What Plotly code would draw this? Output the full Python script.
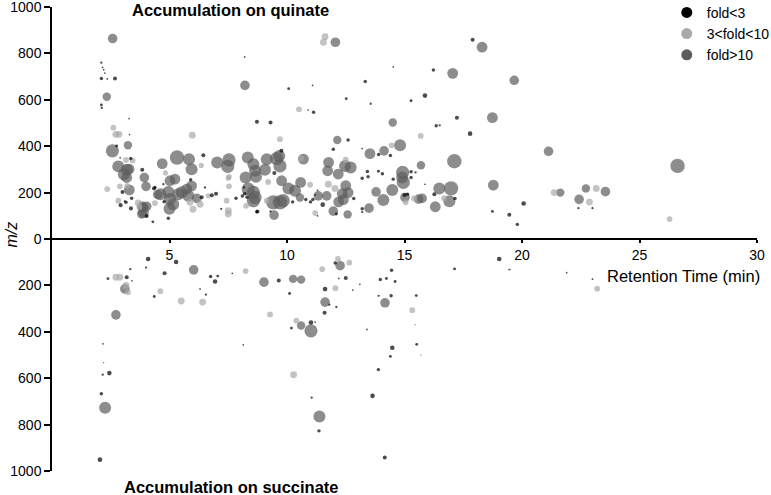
import plotly.graph_objects as go

# ---------------- data (retention time [min], m/z, relative peak intensity) ----------------
# Accumulation on quinate (plotted upward)
q_low_rt = [2.1, 2.15, 2.2, 2.25, 2.1, 2.35, 2.68, 2.1, 2.12, 3.28, 3.3, 2.75, 3.35, 3.0, 3.1, 2.92, 3.36, 3.15, 3.39,
            3.84, 4.03, 4.29, 4.34, 4.74, 4.77, 4.95, 5.9, 6.37, 6.44, 6.51, 6.8, 6.98, 7.2, 7.83, 8.1, 8.2, 8.3, 8.17,
            8.72, 8.2, 8.72, 9.3, 10.07, 11.09, 12.52, 13.33, 14.52, 16.23, 17.9, 15.87, 15.28, 13.56, 11.13, 10.9,
            16.35, 16.5, 17.23, 17.79, 12.6, 9.76, 11.97, 13.2, 13.9, 14.4, 9.46, 8.74, 9.3, 10.24, 10.8, 11.0, 11.1,
            11.52, 11.2, 11.3, 11.3, 12.1, 12.84, 13.2, 13.2, 13.2, 13.42, 13.45, 13.89, 14.06, 14.52, 15.0, 15.13,
            15.28, 15.28, 15.47, 15.87, 16.27, 17.15, 18.74, 19.46, 20.07, 19.8, 22.4, 23.0, 2.9, 4.38]
q_low_mz = [760, 740, 730, 715, 692, 690, 692, 578, 565, 519, 450, 401, 347, 203, 162, 146, 132, 158, 176,
            298, 99, 74, 218, 236, 161, 89, 255, 180, 361, 222, 189, 195, 130, 176, 185, 195, 180, 222,
            117, 785, 505, 502, 648, 662, 605, 679, 742, 728, 859, 618, 596, 583, 546, 556,
            488, 490, 523, 454, 427, 380, 387, 390, 364, 360, 284, 119, 119, 160, 170, 160, 170,
            148, 190, 210, 100, 108, 175, 130, 116, 262, 291, 268, 292, 281, 258, 190, 193,
            290, 265, 287, 236, 193, 175, 119, 105, 153, 63, 133, 133, 350, 222]
q_low_int = [2, 1.5, 1.5, 1.5, 3, 1.5, 3.5, 2.5, 2, 1.5, 1.5, 2.5, 3, 3.5, 2, 3.5, 3.5, 3, 3,
             3.5, 3.5, 2.5, 3.5, 2, 3, 3, 3, 3.5, 3.5, 2, 3.5, 3.5, 2, 3, 3, 3, 3, 2,
             3, 1.5, 3.5, 3.5, 2.5, 1.5, 2.5, 3, 1.5, 3, 3.5, 4, 2.5, 2, 3, 1.5,
             3, 2, 3.5, 4, 3, 3.5, 3, 1.5, 3, 3, 3.5, 3.5, 2, 3, 3, 3, 3,
             4, 1.5, 1.5, 1.5, 2.5, 3, 3, 2, 3, 3, 3, 2.5, 3, 3, 3.5, 3,
             3, 3, 2, 1.5, 3.5, 3, 2.5, 3.5, 4, 3, 2, 2, 1.5, 3]

q_mid_rt = [2.61, 2.72, 2.85, 3.15, 3.43, 2.35, 2.89, 3.2, 2.82, 3.67, 3.72, 4.38, 4.83, 5.97, 5.87, 6.0, 6.3,
            6.35, 6.65, 7.5, 7.43, 7.53, 7.5, 7.5, 8.26, 9.2, 9.14, 9.7, 10.51, 10.6, 10.98, 11.2, 11.62, 11.55,
            11.76, 12.04, 12.5, 14.45, 15.05, 15.4, 15.69, 16.68, 21.37, 23.16, 22.87, 26.28, 7.53]
q_mid_mz = [480, 451, 451, 341, 338, 215, 227, 229, 165, 155, 136, 155, 285, 447, 158, 128, 150,
            317, 186, 262, 165, 227, 122, 108, 143, 246, 165, 430, 559, 348, 234, 112, 872, 848,
            236, 218, 342, 404, 158, 175, 444, 176, 200, 218, 159, 86, 268]
q_mid_int = [5, 6, 6, 5, 5, 5, 5, 5, 5, 6, 5, 5, 4.5, 6, 6, 6, 6,
             4.5, 4.5, 4.5, 5, 5, 6, 6, 5, 5, 5, 5, 5, 5, 5, 5, 6, 6,
             6, 6, 5, 5, 5, 5, 5, 5, 6, 6, 6, 5, 5]

q_high_rt = [2.58, 2.33, 3.23, 2.57, 2.82, 3.18, 3.06, 3.28, 3.18, 3.29, 3.89, 3.82, 4.03, 3.89, 3.82, 3.93, 4.0,
             4.5, 4.62, 4.69, 5.02, 5.23, 4.95, 5.02, 5.16, 5.0, 5.37, 5.52, 5.8, 5.94, 5.73, 5.32, 5.83, 5.94,
             6.16, 7.03, 7.53, 7.48, 8.21, 8.33, 8.57, 8.64, 8.24, 8.68, 8.35, 8.57, 8.64, 8.57, 9.14, 9.56,
             9.67, 9.7, 9.06, 9.77, 10.06, 10.34, 10.58, 9.42, 9.7, 9.84, 9.45, 10.55, 10.7, 11.33, 11.69, 11.97,
             12.06, 12.14, 11.77, 11.73, 12.18, 12.47, 12.71, 12.2, 12.35, 12.5, 12.4, 12.6, 12.58, 13.49, 13.53,
             14.13, 14.5, 13.79, 14.1, 14.48, 14.92, 14.95, 14.9, 15.02, 15.6, 15.75, 15.7, 14.81, 16.48, 16.31,
             16.98, 16.91, 17.05, 17.12, 18.3, 18.74, 18.78, 19.67, 21.13, 21.63, 22.72, 23.55, 22.43, 26.62]
q_high_mz = [864, 613, 404, 380, 313, 298, 278, 301, 265, 212, 136, 141, 141, 115, 108, 265, 227,
             191, 193, 325, 251, 258, 203, 172, 150, 130, 193, 201, 186, 229, 215, 351, 344, 301,
             175, 330, 341, 313, 662, 351, 322, 294, 265, 268, 215, 201, 179, 165, 344, 347,
             358, 315, 298, 251, 218, 208, 244, 158, 158, 165, 103, 179, 344, 186, 186, 120,
             848, 427, 330, 294, 280, 315, 308, 160, 195, 230, 170, 200, 106, 133, 368,
             380, 502, 203, 168, 211, 287, 244, 265, 179, 172, 175, 318, 404, 218, 139,
             218, 163, 714, 335, 827, 523, 232, 684, 378, 200, 218, 204, 171, 315]
q_high_int = [8, 7, 7, 11, 10, 10, 10, 9, 9, 9, 9, 8, 8, 9, 8, 8, 8,
              8, 10, 9, 9, 9, 10, 10, 10, 10, 10, 10, 10, 9, 9, 12, 10, 10,
              8, 10, 11, 11, 8, 10, 10, 10, 10, 10, 11, 11, 11, 11, 10, 11,
              10, 11, 10, 9, 10, 10, 9, 12, 12, 11, 8, 7, 9, 8, 8, 8,
              8, 7, 9, 9, 9, 10, 10, 9, 9, 9, 9, 9, 7, 8, 9,
              8, 7, 8, 10, 10, 11, 11, 10, 8, 8, 8, 7, 10, 10, 9,
              12, 10, 9, 12, 9, 9, 9, 8, 8, 7, 7, 8, 8, 12]

# Accumulation on succinate (plotted downward)
s_low_rt = [4.09, 4.0, 5.28, 4.79, 3.33, 2.38, 3.18, 3.4, 4.35, 6.3, 6.55, 6.75, 6.94, 7.05, 7.67, 2.17, 2.2,
            2.16, 2.44, 2.1, 2.04, 8.14, 9.65, 10.11, 10.19, 11.02, 11.2, 11.05, 11.36, 11.62, 11.8, 11.6, 12.1,
            12.05, 12.2, 12.5, 12.8, 13.1, 13.4, 13.97, 14.23, 14.45, 14.6, 13.9, 14.43, 15.5, 15.45, 14.48,
            14.4, 15.52, 15.7, 13.89, 13.64, 14.16, 17.13, 19.03, 19.45, 21.9, 23.0]
s_low_mz = [86, 123, 99, 148, 130, 171, 165, 180, 248, 215, 240, 162, 183, 160, 148, 452, 533,
            585, 578, 667, 951, 456, 179, 235, 384, 360, 358, 684, 827, 216, 283, 318, 293,
            103, 170, 168, 220, 195, 390, 175, 170, 135, 183, 245, 245, 244, 370, 469,
            506, 454, 500, 563, 676, 942, 129, 86, 132, 145, 173]
s_low_int = [4, 2, 4, 3.5, 2, 2.5, 3.5, 1.5, 2.5, 1.5, 2, 3, 4, 2.5, 1.5, 1.5, 1,
             2, 4, 3, 4, 1.5, 3.5, 2.5, 2.5, 4, 1.5, 2, 3, 4, 2, 3.5, 2,
             3, 1.5, 3.5, 1.5, 1.5, 1.5, 3, 2.5, 3, 2.5, 2, 3, 2.5, 1, 4,
             2.5, 2.5, 1, 3, 4, 3.5, 2.5, 4, 1.5, 1.5, 1.5]

s_mid_rt = [2.72, 2.89, 3.15, 3.23, 4.61, 5.5, 6.41, 8.24, 9.28, 10.4, 10.28, 11.5, 12.06, 12.17, 12.65,
            15.33, 19.5, 23.2]
s_mid_mz = [165, 165, 200, 229, 225, 267, 272, 138, 325, 352, 585, 130, 212, 86, 102, 307, 132, 214]
s_mid_int = [6, 6, 6, 5, 5, 6, 6, 5, 5, 5, 6, 5, 5, 5, 5, 5, 2, 5]

s_high_rt = [6.03, 3.1, 2.72, 2.26, 9.02, 10.26, 10.6, 10.6, 11.02, 11.38, 11.62, 12.26, 14.17]
s_high_mz = [133, 215, 327, 727, 186, 172, 175, 373, 396, 765, 272, 115, 275]
s_high_int = [8, 8, 8, 10, 8, 7, 7, 7, 11, 10, 8, 8, 8]

categories = ["fold<3", "3<fold<10", "fold>10"]
colors = {"fold<3": "#000000", "3<fold<10": "#aaaaaa", "fold>10": "#5c5c5c"}

y_tick_vals = [-1000, -800, -600, -400, -200, 0, 200, 400, 600, 800, 1000]
y_tick_text = [str(abs(v)) for v in y_tick_vals]
x_tick_vals = [5, 10, 15, 20, 25, 30]

series = {
    "fold<3": (q_low_rt, q_low_mz, q_low_int, s_low_rt, s_low_mz, s_low_int),
    "3<fold<10": (q_mid_rt, q_mid_mz, q_mid_int, s_mid_rt, s_mid_mz, s_mid_int),
    "fold>10": (q_high_rt, q_high_mz, q_high_int, s_high_rt, s_high_mz, s_high_int),
}
size_scale = {"fold<3": 1.15, "3<fold<10": 1.15, "fold>10": 1.2}

FONT = "Liberation Sans, Arial, Helvetica, sans-serif"
fig = go.Figure()

for cat in ["fold>10", "3<fold<10", "fold<3"]:
    qrt, qmz, qint, srt, smz, sint = series[cat]
    fig.add_trace(go.Scatter(
        x=list(qrt) + list(srt),
        y=list(qmz) + [-v for v in smz],
        mode="markers",
        marker=dict(color=colors[cat], size=[v * size_scale[cat] for v in list(qint) + list(sint)],
                    line=dict(width=0)),
        showlegend=False, hoverinfo="x+y",
    ))

for cat in categories:
    fig.add_trace(go.Scatter(x=[None], y=[None], mode="markers", name=cat,
                             marker=dict(color=colors[cat], size=11)))

fig.update_layout(
    width=771, height=495,
    margin=dict(l=52, r=14, t=7, b=24, autoexpand=False),
    paper_bgcolor="white", plot_bgcolor="white",
    font=dict(family=FONT, size=14, color="black"),
    showlegend=True,
    legend=dict(x=0.872, y=1.022, xanchor="left", yanchor="top",
                font=dict(size=14, family=FONT), bgcolor="rgba(0,0,0,0)",
                itemwidth=30),
    xaxis=dict(range=[0, 30], anchor="free", position=0.5, showline=True, linecolor="black",
               linewidth=1.5, ticks="outside", ticklen=3, tickwidth=1.5, tickcolor="black",
               tickvals=x_tick_vals, showgrid=False, zeroline=False,
               tickfont=dict(size=14), ticklabeloverflow="allow"),
    yaxis=dict(range=[-1000, 1000], showline=True, linecolor="black", linewidth=1.5,
               ticks="outside", ticklen=6, tickwidth=1.5, tickcolor="black",
               tickvals=y_tick_vals, ticktext=y_tick_text, showgrid=False, zeroline=False,
               tickfont=dict(size=14), ticklabeloverflow="allow"),
    annotations=[
        dict(text="<b>Accumulation on quinate</b>", xref="paper", yref="paper", x=0.2525, y=0.9935,
             showarrow=False, font=dict(size=16.5), xanchor="center", yanchor="middle"),
        dict(text="<b>Accumulation on succinate</b>", xref="paper", yref="paper", x=0.255, y=-0.0345,
             showarrow=False, font=dict(size=16.5), xanchor="center", yanchor="middle"),
        dict(text="Retention Time (min)", xref="paper", yref="paper", x=1, y=0.42, xshift=5,
             showarrow=False, font=dict(size=16.5), xanchor="right", yanchor="middle"),
        dict(text="<i>m/z</i>", xref="paper", yref="paper", x=-0.058, y=0.51, textangle=-90,
             showarrow=False, font=dict(size=16), xanchor="center", yanchor="middle"),
    ],
)

fig.write_html("out.html", config={"displayModeBar": False},
               post_script="document.body.style.margin='0';")
